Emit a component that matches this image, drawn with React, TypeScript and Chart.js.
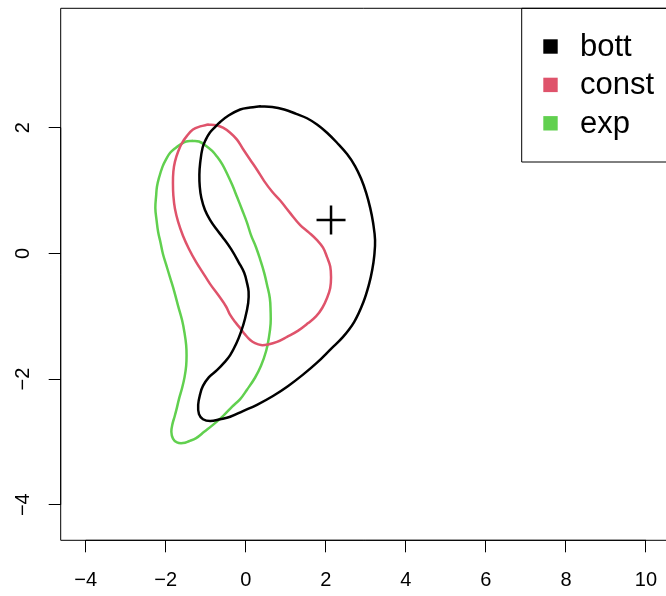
import React, { useEffect, useRef } from "react";
import { Chart, registerables } from "chart.js";

Chart.register(...registerables);

// ---- data ----
const seriesNames = ["bott", "const", "exp"];
const seriesColors = ["#000000", "#DF536B", "#61D04F"];

const bottX = [0.36, 0.66, 0.96, 1.26, 1.53, 1.78, 2.03, 2.28, 2.53, 2.73, 2.88, 3.01, 3.11, 3.18, 3.23, 3.21, 3.16, 3.08, 2.93, 2.71, 2.43, 2.13, 1.78, 1.43, 1.06, 0.68, 0.28, -0.07, -0.39, -0.64, -0.89, -1.07, -1.17, -1.19, -1.14, -1.07, -0.92, -0.72, -0.54, -0.39, -0.24, -0.12, -0.02, 0.06, 0.07, 0.03, -0.04, -0.17, -0.37, -0.57, -0.74, -0.89, -1.02, -1.11, -1.15, -1.16, -1.14, -1.08, -1.00, -0.90, -0.77, -0.64, -0.44, -0.14, 0.11, 0.36];
const bottY = [2.34, 2.33, 2.29, 2.22, 2.15, 2.05, 1.92, 1.76, 1.58, 1.39, 1.19, 0.96, 0.72, 0.49, 0.21, -0.04, -0.26, -0.49, -0.79, -1.09, -1.33, -1.52, -1.74, -1.93, -2.11, -2.27, -2.41, -2.51, -2.60, -2.64, -2.67, -2.64, -2.56, -2.41, -2.24, -2.11, -1.97, -1.86, -1.74, -1.62, -1.44, -1.25, -1.04, -0.79, -0.61, -0.47, -0.31, -0.15, 0.07, 0.25, 0.39, 0.53, 0.69, 0.88, 1.06, 1.25, 1.44, 1.68, 1.81, 1.92, 2.01, 2.09, 2.19, 2.29, 2.32, 2.34];

const constX = [-0.94, -0.74, -0.57, -0.39, -0.22, -0.07, 0.11, 0.28, 0.46, 0.66, 0.86, 1.11, 1.36, 1.58, 1.78, 1.93, 2.03, 2.11, 2.13, 2.11, 2.03, 1.91, 1.76, 1.56, 1.31, 1.03, 0.78, 0.56, 0.38, 0.23, 0.11, -0.02, -0.14, -0.27, -0.39, -0.49, -0.67, -0.89, -1.09, -1.24, -1.42, -1.57, -1.69, -1.77, -1.81, -1.82, -1.81, -1.77, -1.69, -1.59, -1.47, -1.32, -1.14, -0.94];
const constY = [2.05, 2.04, 2.00, 1.92, 1.81, 1.66, 1.49, 1.33, 1.15, 0.98, 0.84, 0.64, 0.45, 0.33, 0.21, 0.09, -0.06, -0.21, -0.39, -0.55, -0.71, -0.87, -1.00, -1.11, -1.23, -1.33, -1.41, -1.45, -1.46, -1.43, -1.38, -1.29, -1.19, -1.09, -0.98, -0.85, -0.68, -0.49, -0.29, -0.14, 0.07, 0.28, 0.50, 0.71, 0.92, 1.11, 1.30, 1.46, 1.62, 1.76, 1.87, 1.97, 2.02, 2.05];

const expX = [-1.34, -1.17, -0.99, -0.84, -0.72, -0.59, -0.47, -0.34, -0.22, -0.09, 0.03, 0.13, 0.26, 0.36, 0.46, 0.53, 0.60, 0.62, 0.62, 0.58, 0.51, 0.38, 0.23, 0.03, -0.14, -0.34, -0.57, -0.82, -1.04, -1.24, -1.42, -1.57, -1.72, -1.82, -1.86, -1.83, -1.78, -1.73, -1.67, -1.59, -1.53, -1.49, -1.48, -1.49, -1.53, -1.59, -1.69, -1.79, -1.89, -1.99, -2.07, -2.13, -2.19, -2.23, -2.26, -2.24, -2.22, -2.17, -2.08, -1.99, -1.89, -1.77, -1.64, -1.49, -1.34];
const expY = [1.79, 1.78, 1.71, 1.63, 1.54, 1.42, 1.27, 1.09, 0.90, 0.69, 0.49, 0.29, 0.09, -0.10, -0.31, -0.50, -0.71, -0.92, -1.12, -1.33, -1.55, -1.79, -1.98, -2.17, -2.32, -2.44, -2.59, -2.73, -2.84, -2.94, -2.99, -3.02, -3.01, -2.95, -2.84, -2.71, -2.60, -2.48, -2.32, -2.14, -1.97, -1.79, -1.62, -1.46, -1.27, -1.07, -0.84, -0.60, -0.39, -0.18, -0.01, 0.17, 0.34, 0.53, 0.72, 0.92, 1.06, 1.20, 1.38, 1.50, 1.60, 1.67, 1.73, 1.78, 1.79];

const markerX = [2.13];
const markerY = [0.53];

const xTicks = [-4, -2, 0, 2, 4, 6, 8, 10];
const yTicks = [-4, -2, 0, 2];
const xLimits = [-4.625, 10.5];
const yLimits = [-4.567, 3.9];

const curvesX = [bottX, constX, expX];
const curvesY = [bottY, constY, expY];

const FONT = '"Liberation Sans", Arial, Helvetica, sans-serif';

const fmt = (v: number) => (v < 0 ? "\u2212" + Math.abs(v) : String(v));

const framePlugin = {
  id: "rframe",
  afterDraw(chart: any) {
    const { ctx, chartArea: a, scales } = chart;
    const xs = scales.x;
    const ys = scales.y;
    ctx.save();
    ctx.strokeStyle = "#000";
    ctx.lineWidth = 1;
    ctx.beginPath();
    ctx.moveTo(a.right + 5, a.top);
    ctx.lineTo(a.left, a.top);
    ctx.lineTo(a.left, a.bottom);
    ctx.lineTo(a.right + 5, a.bottom);
    ctx.stroke();
    ctx.beginPath();
    ctx.moveTo(xs.getPixelForValue(xTicks[0]), a.bottom);
    ctx.lineTo(xs.getPixelForValue(xTicks[xTicks.length - 1]), a.bottom);
    ctx.moveTo(a.left, ys.getPixelForValue(yTicks[0]));
    ctx.lineTo(a.left, ys.getPixelForValue(yTicks[yTicks.length - 1]));
    ctx.stroke();
    const lx = a.right - 144.3;
    const ly = a.top;
    ctx.beginPath();
    ctx.moveTo(a.right + 5, ly);
    ctx.lineTo(lx, ly);
    ctx.lineTo(lx, ly + 153.7);
    ctx.lineTo(a.right + 5, ly + 153.7);
    ctx.stroke();
    ctx.font = "31px " + FONT;
    ctx.textAlign = "left";
    ctx.textBaseline = "middle";
    seriesNames.forEach((name, i) => {
      const cy = ly + 38.2 + i * 38.4;
      ctx.fillStyle = seriesColors[i];
      ctx.fillRect(lx + 21.6, cy - 7.2, 14.4, 14.4);
      ctx.fillStyle = "#000";
      ctx.fillText(name, lx + 58.3, cy + 1);
    });
    ctx.restore();
  },
};

export default function App() {
  const ref = useRef<HTMLCanvasElement | null>(null);

  useEffect(() => {
    if (!ref.current) return;
    const datasets: any[] = seriesNames.map((name, i) => ({
      label: name,
      data: curvesX[i].map((x, k) => ({ x, y: curvesY[i][k] })),
      showLine: true,
      borderColor: seriesColors[i],
      backgroundColor: seriesColors[i],
      borderWidth: 2.5,
      pointRadius: 0,
      pointHoverRadius: 0,
      tension: 0.4,
      borderJoinStyle: "round",
      borderCapStyle: "round",
      fill: false,
    }));
    datasets.push({
      label: "centre",
      data: markerX.map((x, k) => ({ x, y: markerY[k] })),
      showLine: false,
      pointStyle: "cross",
      pointRadius: 14.5,
      pointHoverRadius: 14.5,
      borderColor: "#000",
      borderWidth: 2.5,
    });

    const chart = new Chart(ref.current, {
      type: "scatter",
      data: { datasets },
      options: {
        animation: false,
        responsive: false,
        maintainAspectRatio: false,
        layout: { autoPadding: false, padding: { top: 8.3, left: 0, right: 0, bottom: 0 } },
        plugins: { legend: { display: false }, tooltip: { enabled: false } },
        scales: {
          x: {
            type: "linear",
            min: xLimits[0],
            max: xLimits[1],
            afterBuildTicks: (s: any) => {
              s.ticks = xTicks.map((v) => ({ value: v }));
            },
            afterFit: (s: any) => {
              s.height = 55.7;
              s.paddingLeft = 0;
              s.paddingRight = 0;
            },
            grid: {
              display: true,
              drawOnChartArea: false,
              drawTicks: true,
              tickLength: 12,
              color: "#000",
              lineWidth: 1,
            },
            border: { display: false },
            ticks: {
              autoSkip: false,
              minRotation: 0,
              maxRotation: 0,
              padding: 15.7,
              color: "#000",
              font: { family: FONT, size: 20 },
              callback: (v: any) => fmt(Number(v)),
            },
          },
          y: {
            type: "linear",
            min: yLimits[0],
            max: yLimits[1],
            afterBuildTicks: (s: any) => {
              s.ticks = yTicks.map((v) => ({ value: v }));
            },
            afterFit: (s: any) => {
              s.width = 60.7;
              s.paddingTop = 0;
              s.paddingBottom = 0;
            },
            grid: {
              display: true,
              drawOnChartArea: false,
              drawTicks: true,
              tickLength: 12,
              color: "#000",
              lineWidth: 1,
            },
            border: { display: false },
            ticks: {
              autoSkip: false,
              minRotation: 90,
              maxRotation: 90,
              crossAlign: "center",
              padding: 13.6,
              color: "#000",
              font: { family: FONT, size: 20 },
              callback: (v: any) => fmt(Number(v)),
            },
          },
        },
      },
      plugins: [framePlugin],
    } as any);
    return () => chart.destroy();
  }, []);

  return (
    <div style={{ position: "absolute", left: 0, top: 0, width: 666, height: 596, background: "#fff" }}>
      <canvas ref={ref} width={666} height={596} style={{ display: "block" }} />
    </div>
  );
}
